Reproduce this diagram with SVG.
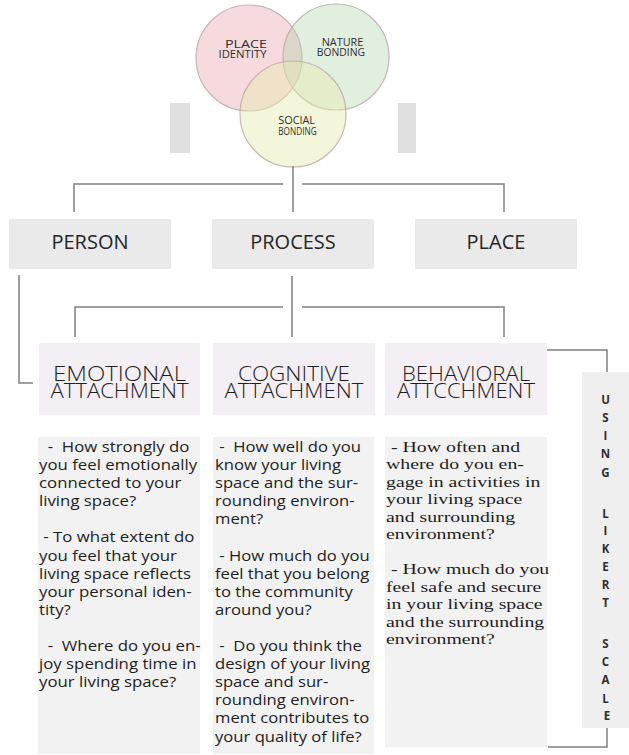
<svg xmlns="http://www.w3.org/2000/svg" width="629" height="755" viewBox="0 0 629 755">
  <style>
    .venn { stroke: #b5a3a3; stroke-opacity: 0.75; stroke-width: 1.2; }
    .vlabel { font-family: "Open Sans", "Liberation Sans", sans-serif; font-size: 11px; fill: #2e2e2e; }
    .side { fill: #e0e0e0; }
    .top { fill: #e9eae9; }
    .toplabel { font-family: "Open Sans", "Liberation Sans", sans-serif; font-size: 20px; fill: #262626; text-anchor: middle; }
    .att { fill: #f3eff5; }
    .attlabel { font-family: "Open Sans", "Liberation Sans", sans-serif; font-size: 20.5px; font-weight: 300; fill: #1e1e1e; text-anchor: middle; }
    .qbg { fill: #f2f2f2; }
    .q { font-family: "Open Sans", "Liberation Sans", sans-serif; font-size: 14px; fill: #1e1e1e; white-space: pre; }
    .qs { font-family: "Liberation Serif", "Times New Roman", serif; font-size: 15px; fill: #1e1e1e; white-space: pre; }
    .likert { fill: #efefef; }
    .lk { font-family: "Open Sans", "Liberation Sans", sans-serif; font-size: 11.5px; font-weight: 700; fill: #2e2e2e; text-anchor: middle; }
    .wire { fill: none; stroke: #808080; stroke-width: 1.5; }
  </style>

  <!-- three overlapping circles -->
  <g id="venn">
    <circle class="venn" cx="249" cy="58" r="53" fill="#eaa2ad" fill-opacity="0.4"/>
    <circle class="venn" cx="336" cy="57" r="53" fill="#a9d2a4" fill-opacity="0.36"/>
    <circle class="venn" cx="293" cy="114" r="53" fill="#e6ebb0" fill-opacity="0.45"/>
    <text class="vlabel" x="225" y="48.3" textLength="42" lengthAdjust="spacingAndGlyphs">PLACE</text>
    <text class="vlabel" x="218.5" y="58.3" textLength="48" lengthAdjust="spacingAndGlyphs">IDENTITY</text>
    <text class="vlabel" x="321.7" y="46" textLength="41.6" lengthAdjust="spacingAndGlyphs">NATURE</text>
    <text class="vlabel" x="316.7" y="56" textLength="48.3" lengthAdjust="spacingAndGlyphs">BONDING</text>
    <text class="vlabel" x="278.3" y="124" textLength="36.7" lengthAdjust="spacingAndGlyphs">SOCIAL</text>
    <text class="vlabel" x="278.3" y="135" textLength="38.4" lengthAdjust="spacingAndGlyphs">BONDING</text>
  </g>
  <rect class="side" x="170" y="103" width="20" height="50"/>
  <rect class="side" x="398" y="103" width="18" height="50"/>

  <!-- connectors -->
  <g id="connectors">
    <path class="wire" d="M293 166 V212"/>
    <path class="wire" d="M283 184 H74 V212"/>
    <path class="wire" d="M302 184 H504 V212"/>
    <path class="wire" d="M292 276 V337"/>
    <path class="wire" d="M283 307 H75 V337"/>
    <path class="wire" d="M302 307 H504 V337"/>
    <path class="wire" d="M19 275 V383 H33"/>
    <path class="wire" d="M547 350 H607 V372"/>
    <path class="wire" d="M607 728 V747 H548"/>
  </g>

  <!-- person / process / place -->
  <g id="person">
    <rect class="top" x="9" y="219" width="162" height="50"/>
    <text class="toplabel" x="90" y="249">PERSON</text>
  </g>
  <g id="process">
    <rect class="top" x="212" y="219" width="162" height="50"/>
    <text class="toplabel" x="293" y="249">PROCESS</text>
  </g>
  <g id="place">
    <rect class="top" x="415" y="219" width="162" height="50"/>
    <text class="toplabel" x="496" y="249">PLACE</text>
  </g>

  <!-- attachment headers -->
  <g id="emotional">
    <rect class="att" x="39" y="343" width="161" height="72"/>
    <text class="attlabel" x="119.5" y="381" textLength="133" lengthAdjust="spacingAndGlyphs">EMOTIONAL</text>
    <text class="attlabel" x="119.5" y="398" textLength="138" lengthAdjust="spacingAndGlyphs">ATTACHMENT</text>
  </g>
  <g id="cognitive">
    <rect class="att" x="213" y="343" width="162" height="72"/>
    <text class="attlabel" x="294" y="381" textLength="112" lengthAdjust="spacingAndGlyphs">COGNITIVE</text>
    <text class="attlabel" x="294" y="398" textLength="139" lengthAdjust="spacingAndGlyphs">ATTACHMENT</text>
  </g>
  <g id="behavioral">
    <rect class="att" x="385" y="343" width="162" height="72"/>
    <text class="attlabel" x="466" y="381" textLength="128" lengthAdjust="spacingAndGlyphs">BEHAVIORAL</text>
    <text class="attlabel" x="466" y="398" textLength="138" lengthAdjust="spacingAndGlyphs">ATTCCHMENT</text>
  </g>

  <!-- question columns -->
  <g id="emotional-questions">
    <rect class="qbg" x="38" y="437" width="162" height="317"/>
    <g transform="translate(39 0) scale(1.2 1)">
      <text class="q">
        <tspan x="0" y="452">  -  How strongly do</tspan>
        <tspan x="0" y="470.1">you feel emotionally</tspan>
        <tspan x="0" y="488.2">connected to your</tspan>
        <tspan x="0" y="506.3">living space?</tspan>
        <tspan x="0" y="542.5"> - To what extent do</tspan>
        <tspan x="0" y="560.6">you feel that your</tspan>
        <tspan x="0" y="578.7">living space reflects</tspan>
        <tspan x="0" y="596.8">your personal iden-</tspan>
        <tspan x="0" y="614.9">tity?</tspan>
        <tspan x="0" y="651.1">  -  Where do you en-</tspan>
        <tspan x="0" y="669.2">joy spending time in</tspan>
        <tspan x="0" y="687.3">your living space?</tspan>
      </text>
    </g>
  </g>
  <g id="cognitive-questions">
    <rect class="qbg" x="213" y="437" width="161" height="317"/>
    <g transform="translate(215 0) scale(1.19 1)">
      <text class="q">
        <tspan x="0" y="452"> -  How well do you</tspan>
        <tspan x="0" y="470.1">know your living</tspan>
        <tspan x="0" y="488.2">space and the sur-</tspan>
        <tspan x="0" y="506.3">rounding environ-</tspan>
        <tspan x="0" y="524.4">ment?</tspan>
        <tspan x="0" y="560.6"> - How much do you</tspan>
        <tspan x="0" y="578.7">feel that you belong</tspan>
        <tspan x="0" y="596.8">to the community</tspan>
        <tspan x="0" y="614.9">around you?</tspan>
        <tspan x="0" y="651.1"> -  Do you think the</tspan>
        <tspan x="0" y="669.2">design of your living</tspan>
        <tspan x="0" y="687.3">space and sur-</tspan>
        <tspan x="0" y="705.4">rounding environ-</tspan>
        <tspan x="0" y="723.5">ment contributes to</tspan>
        <tspan x="0" y="741.6">your quality of life?</tspan>
      </text>
    </g>
  </g>
  <g id="behavioral-questions">
    <rect class="qbg" x="385" y="437" width="162" height="310"/>
    <g transform="translate(386 0) scale(1.32 1)">
      <text class="qs">
        <tspan x="0" y="452"> - How often and</tspan>
        <tspan x="0" y="469.5">where do you en-</tspan>
        <tspan x="0" y="487">gage in activities in</tspan>
        <tspan x="0" y="504.5">your living space</tspan>
        <tspan x="0" y="522">and surrounding</tspan>
        <tspan x="0" y="539.5">environment?</tspan>
        <tspan x="0" y="574.5"> - How much do you</tspan>
        <tspan x="0" y="592">feel safe and secure</tspan>
        <tspan x="0" y="609.5">in your living space</tspan>
        <tspan x="0" y="627">and the surrounding</tspan>
        <tspan x="0" y="644.5">environment?</tspan>
      </text>
    </g>
  </g>

  <!-- vertical scale label -->
  <g id="likert">
    <rect class="likert" x="582" y="372" width="47" height="356"/>
    <text class="lk">
      <tspan x="607" y="404">U</tspan>
      <tspan x="607" y="422">S</tspan>
      <tspan x="607" y="440">I</tspan>
      <tspan x="607" y="458">N</tspan>
      <tspan x="607" y="477">G</tspan>
      <tspan x="607" y="518">L</tspan>
      <tspan x="607" y="535">I</tspan>
      <tspan x="607" y="553">K</tspan>
      <tspan x="607" y="571">E</tspan>
      <tspan x="607" y="589">R</tspan>
      <tspan x="607" y="607">T</tspan>
      <tspan x="607" y="648">S</tspan>
      <tspan x="607" y="666">C</tspan>
      <tspan x="607" y="684">A</tspan>
      <tspan x="607" y="703">L</tspan>
      <tspan x="607" y="720">E</tspan>
    </text>
  </g>
</svg>
